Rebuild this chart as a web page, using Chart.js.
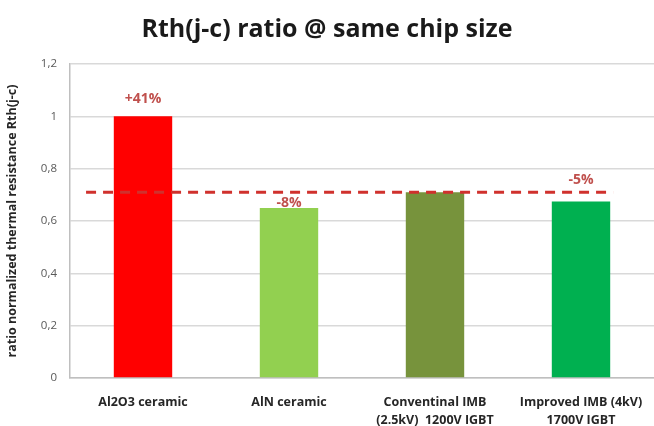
<!DOCTYPE html>
<html>
<head>
<meta charset="utf-8">
<script src="https://cdn.jsdelivr.net/npm/chart.js@4/dist/chart.umd.min.js"></script>
<style>
  html, body { margin: 0; padding: 0; background: #ffffff; }
  #wrap { width: 654px; height: 426px; }
</style>
</head>
<body>
<div id="wrap"><canvas id="c" width="654" height="426"></canvas></div>
<script>
// Categories (multi-line labels as arrays)
const categories = [
  'Al2O3 ceramic',
  'AlN ceramic',
  ['Conventinal IMB', '(2.5kV)  1200V IGBT'],
  ['Improved IMB (4kV)', '1700V IGBT']
];
// Normalized Rth(j-c) ratio per substrate
const ratioValues = [1.0, 0.65, 0.71, 0.675];
const barColors = ['#ff0000', '#92d050', '#77933c', '#00b050'];
// Reference level (conventional IMB) shown as dashed line
const referenceLevel = 0.71;
// Which bars carry a percent-difference label
const labelledBars = [true, true, false, true];
const yTickValues = [0, 0.2, 0.4, 0.6, 0.8, 1.0, 1.2];

const FONT = '"Open Sans", Lato, sans-serif';
const LABEL_RED = '#c0504d';

function pctLabel(v) {
  const p = Math.round((v / referenceLevel - 1) * 100);
  return (p > 0 ? '+' : '') + p + '%';
}

const overlayPlugin = {
  id: 'overlay',
  afterDatasetsDraw(chart) {
    const ctx = chart.ctx;
    const x = chart.scales.x, y = chart.scales.y;
    // dashed reference line
    const yRef = y.getPixelForValue(referenceLevel);
    ctx.save();
    ctx.strokeStyle = '#d0312d';
    ctx.lineWidth = 3;
    ctx.setLineDash([10, 7]);
    ctx.beginPath();
    ctx.moveTo(x.getPixelForValue(-0.39), yRef);
    ctx.lineTo(x.getPixelForValue(3.22), yRef);
    ctx.stroke();
    ctx.restore();

    // percent labels above bars
    const meta = chart.getDatasetMeta(0);
    const offsets = [17, 5, 0, 21];
    ctx.save();
    ctx.font = 'bold 14px ' + FONT;
    ctx.fillStyle = LABEL_RED;
    ctx.textAlign = 'center';
    ctx.textBaseline = 'middle';
    meta.data.forEach((bar, i) => {
      if (!labelledBars[i]) return;
      ctx.fillText(pctLabel(ratioValues[i]), bar.x, bar.y - offsets[i]);
    });
    ctx.restore();
  }
};

new Chart(document.getElementById('c'), {
  type: 'bar',
  data: {
    labels: categories,
    datasets: [{
      data: ratioValues,
      backgroundColor: barColors,
      borderWidth: 0,
      barPercentage: 0.4,
      categoryPercentage: 1.0
    }]
  },
  options: {
    responsive: false,
    animation: false,
    devicePixelRatio: 1,
    layout: { padding: { left: 0, right: 0, top: 0, bottom: 0 } },
    plugins: {
      legend: { display: false },
      tooltip: { enabled: false },
      title: {
        display: true,
        text: 'Rth(j-c) ratio @ same chip size',
        color: '#1a1a1a',
        font: { family: FONT, size: 25, weight: 'bold' },
        padding: { top: 15, bottom: 19 }
      }
    },
    scales: {
      x: {
        grid: { display: false, drawTicks: false },
        border: { display: true, color: '#bfbfbf', width: 1.5 },
        ticks: {
          color: '#262626',
          font: { family: FONT, size: 12.5, weight: 'bold', lineHeight: 1.4 },
          padding: 16,
          maxRotation: 0,
          autoSkip: false
        },
        afterFit(s) {
          s.height = 48;
          s.paddingLeft = 0;
          s.paddingRight = 0;
        }
      },
      y: {
        min: 0,
        max: 1.2,
        afterBuildTicks(s) { s.ticks = yTickValues.map(v => ({ value: v })); },
        grid: { color: '#d9d9d9', lineWidth: 1.5, drawTicks: false },
        border: { display: true, color: '#bfbfbf', width: 1.5 },
        ticks: {
          color: '#595959',
          font: { family: FONT, size: 11.5 },
          padding: 13,
          callback: v => String(+v.toFixed(1)).replace('.', ',')
        },
        title: {
          display: true,
          text: 'ratio normalized thermal resistance Rth(j-c)',
          color: '#262626',
          font: { family: FONT, size: 12.5, weight: 'bold' },
          padding: { top: 5, bottom: 0 }
        },
        afterFit(s) { s.width = 70; }
      }
    }
  },
  plugins: [overlayPlugin]
});
</script>
</body>
</html>
